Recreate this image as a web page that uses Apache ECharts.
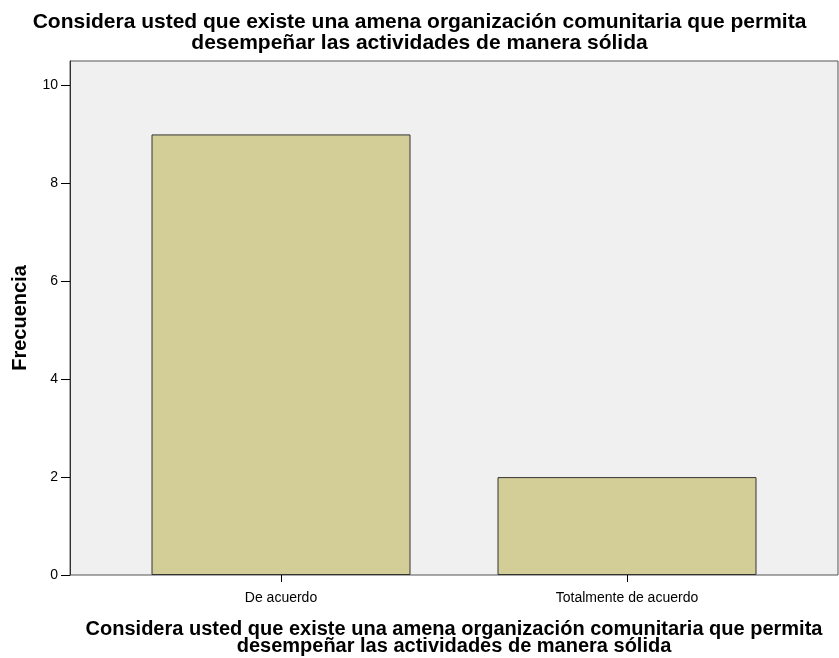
<!DOCTYPE html>
<html><head><meta charset="utf-8">
<script src="https://cdn.jsdelivr.net/npm/echarts@6/dist/echarts.min.js"></script>
<style>html,body{margin:0;padding:0;background:#fff}#c{width:839px;height:658px}</style>
</head><body><div id="c"></div>
<script>
const categories = ['De acuerdo', 'Totalmente de acuerdo'];
const frecuencia = [9, 2];
const yTicks = [0, 2, 4, 6, 8, 10];
const titleText = 'Considera usted que existe una amena organización comunitaria que permita\ndesempeñar las actividades de manera sólida';

const chart = echarts.init(document.getElementById('c'), null, {renderer: 'canvas'});
const F = 'Liberation Sans, Arial, sans-serif';
chart.setOption({
  animation: false,
  title: {
    text: titleText, left: 'center', top: 7,
    textStyle: {fontFamily: F, fontSize: 21, fontWeight: 'bold', color: '#000', lineHeight: 21}
  },
  grid: [
    {left: 70, right: 1, top: 61, bottom: 83, show: true, backgroundColor: '#f0f0f0', borderColor: '#555', borderWidth: 1,
     containLabel: false, outerBoundsMode: 'none'},
    {left: 108, right: 39, top: 61, bottom: 83, containLabel: false, outerBoundsMode: 'none'}
  ],
  xAxis: [
    {gridIndex: 0, type: 'value', min: 0, max: 1, show: false},
    {gridIndex: 1, type: 'category', data: categories,
     axisLine: {show: false},
     axisTick: {show: true, alignWithLabel: true, length: 7, lineStyle: {color: '#000'}},
     axisLabel: {fontFamily: F, fontSize: 14, color: '#000', margin: 16},
     name: titleText, nameLocation: 'middle', nameGap: 46,
     nameTextStyle: {fontFamily: F, fontSize: 20, fontWeight: 'bold', color: '#000', lineHeight: 17}
    }
  ],
  yAxis: [
    {gridIndex: 0, type: 'value', min: 0, max: 10.5, interval: 2,
     axisLine: {show: true, lineStyle: {color: '#333'}},
     axisTick: {show: true, length: 9, lineStyle: {color: '#000'}, customValues: yTicks},
     splitLine: {show: false},
     axisLabel: {fontFamily: F, fontSize: 14, color: '#000', margin: 12, customValues: yTicks},
     name: 'Frecuencia', nameLocation: 'middle', nameGap: 40,
     nameTextStyle: {fontFamily: F, fontSize: 20, fontWeight: 'bold', color: '#000'}
    },
    {gridIndex: 1, type: 'value', min: 0, max: 10.5, show: false}
  ],
  series: [{
    type: 'bar', xAxisIndex: 1, yAxisIndex: 1, data: frecuencia, barWidth: 259,
    itemStyle: {color: '#d3ce97', borderColor: '#333', borderWidth: 1}
  }]
});
</script></body></html>
